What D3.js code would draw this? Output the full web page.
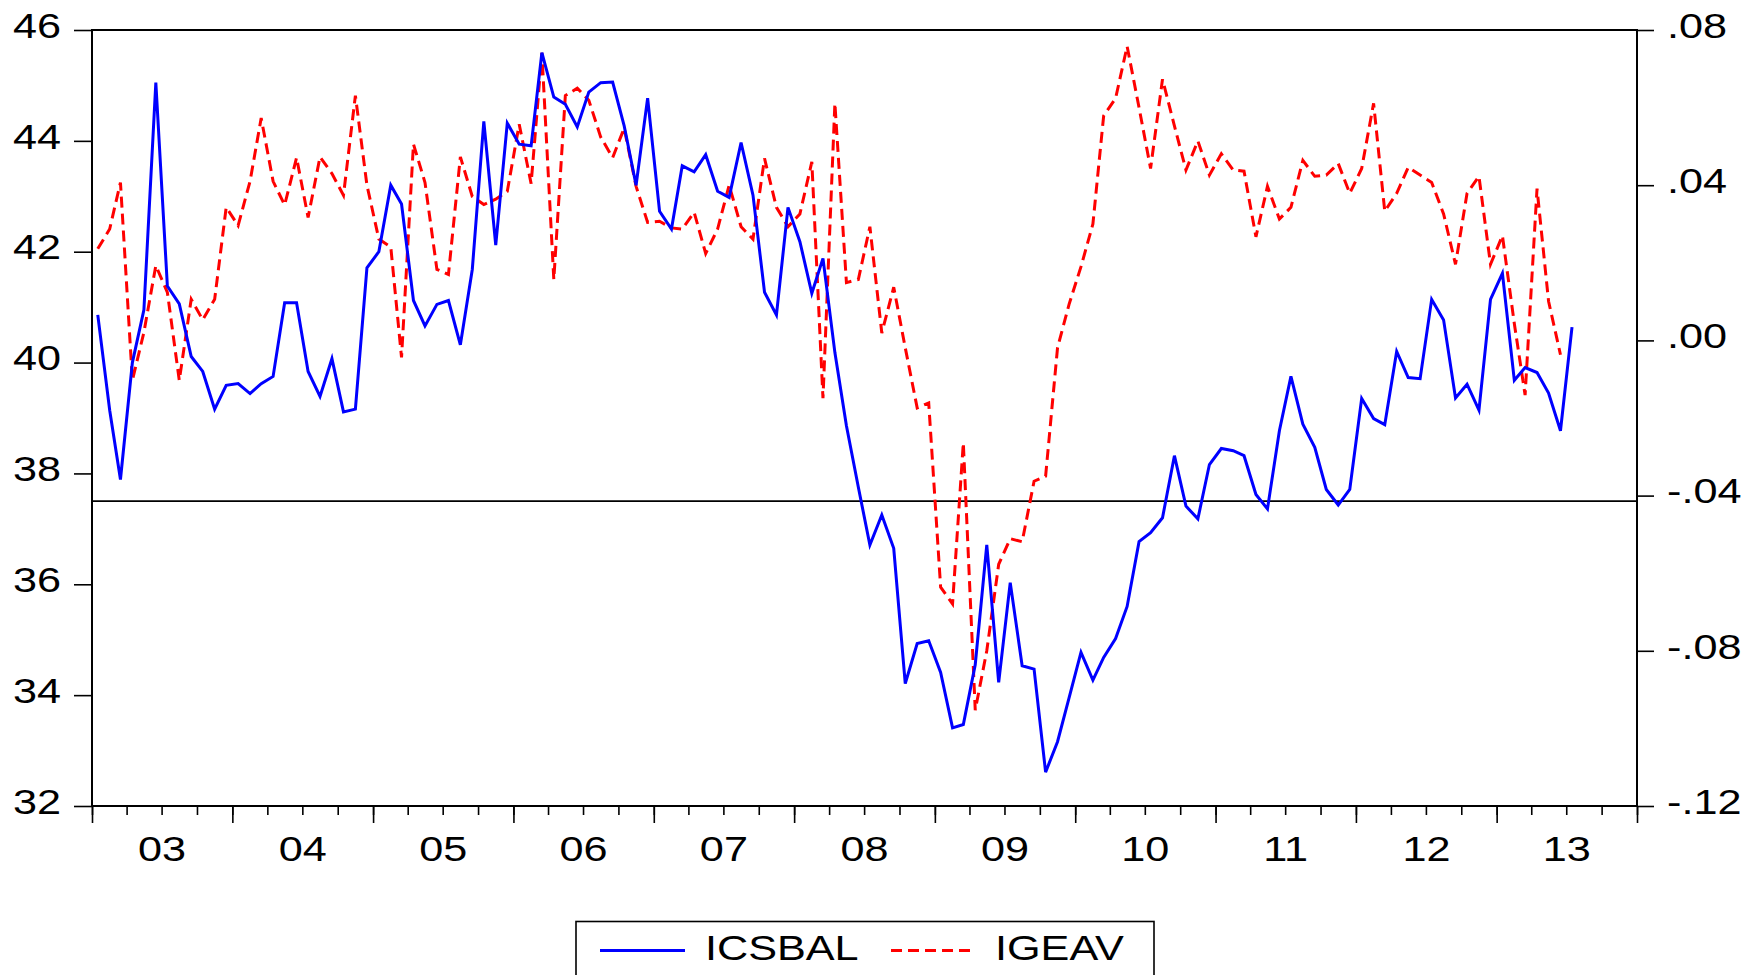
<!DOCTYPE html>
<html>
<head>
<meta charset="utf-8">
<script src="https://cdn.jsdelivr.net/npm/d3@7"></script>
<style>
    html, body { margin: 0; padding: 0; background: #fff; }
    svg { display: block; }
    text { font-family: "Liberation Sans", Arial, sans-serif; fill: #000; }
</style>
</head>
<body>
<div id="chart"></div>
<script>
// monthly series, starting Jan 2003
var icsbal = [
    40.86, 39.14, 37.89, 40.00, 40.95, 45.05, 41.38, 41.06, 40.11, 39.84, 39.16, 39.59,
    39.62, 39.44, 39.62, 39.75, 41.08, 41.08, 39.84, 39.39, 40.07, 39.11, 39.16, 41.71,
    42.00, 43.20, 42.86, 41.12, 40.66, 41.05, 41.12, 40.32, 41.68, 44.35, 42.12, 44.32,
    43.94, 43.91, 45.59, 44.79, 44.66, 44.25, 44.88, 45.05, 45.06, 44.27, 43.20, 44.77,
    42.73, 42.41, 43.55, 43.44, 43.75, 43.09, 42.98, 43.97, 43.02, 41.27, 40.86, 42.80,
    42.18, 41.25, 41.88, 40.18, 38.86, 37.75, 36.71, 37.25, 36.65, 34.21, 34.93, 34.98,
    34.41, 33.41, 33.47, 34.55, 36.71, 34.23, 36.03, 34.53, 34.47, 32.61, 33.16, 33.95,
    34.77, 34.27, 34.68, 35.02, 35.60, 36.77, 36.93, 37.20, 38.32, 37.41, 37.18, 38.16,
    38.45, 38.41, 38.32, 37.62, 37.36, 38.77, 39.75, 38.89, 38.47, 37.71, 37.43, 37.71,
    39.35, 38.99, 38.88, 40.20, 39.73, 39.71, 41.14, 40.77, 39.36, 39.61, 39.14, 41.14,
    41.61, 39.68, 39.91, 39.82, 39.45, 38.77, 40.64
];
var igeav = [
    0.0236, 0.0287, 0.0407, -0.0103, 0.0021, 0.0193, 0.0124, -0.0103, 0.0106, 0.0053, 0.0106, 0.0343,
    0.0296, 0.0410, 0.0573, 0.0410, 0.0349, 0.0471, 0.0317, 0.0473, 0.0430, 0.0374, 0.0631, 0.0400,
    0.0261, 0.0241, -0.0044, 0.0506, 0.0407, 0.0183, 0.0170, 0.0473, 0.0371, 0.0350, 0.0364, 0.0384,
    0.0557, 0.0404, 0.0741, 0.0157, 0.0631, 0.0650, 0.0619, 0.0524, 0.0471, 0.0547, 0.0397, 0.0304,
    0.0307, 0.0290, 0.0287, 0.0330, 0.0224, 0.0287, 0.0400, 0.0293, 0.0261, 0.0469, 0.0343, 0.0293,
    0.0326, 0.0460, -0.0149, 0.0611, 0.0149, 0.0157, 0.0293, 0.0019, 0.0137, -0.0019, -0.0174, -0.0161,
    -0.0636, -0.0679, -0.0264, -0.0953, -0.0800, -0.0577, -0.0511, -0.0519, -0.0363, -0.0350, -0.0019, 0.0093,
    0.0190, 0.0300, 0.0579, 0.0624, 0.0758, 0.0600, 0.0443, 0.0673, 0.0553, 0.0439, 0.0514, 0.0426,
    0.0481, 0.0439, 0.0436, 0.0267, 0.0397, 0.0313, 0.0343, 0.0464, 0.0423, 0.0426, 0.0456, 0.0379,
    0.0443, 0.0611, 0.0333, 0.0379, 0.0446, 0.0426, 0.0407, 0.0326, 0.0196, 0.0379, 0.0423, 0.0196,
    0.0270, 0.0043, -0.0141, 0.0391, 0.0101, -0.0037
];
var seriesNames = ["ICSBAL", "IGEAV"];
var leftTicks = [32, 34, 36, 38, 40, 42, 44, 46];
var rightTicks = [-0.12, -0.08, -0.04, 0.00, 0.04, 0.08];
var startYear = 2003, endYear = 2014;
// horizontal reference line, left axis units
var refLevel = 37.5;

function drawChart() {
    var width = 1748,
        height = 975,
        // plot frame
        left = 92, right = 1637, top = 30, bottom = 806,
        fontSize = 36,
        // text in the original is stretched sideways
        stretch = 1.2;

    var svg = d3.select("#chart").append("svg")
        .attr("width", width).attr("height", height);

    svg.append("rect").attr("width", width).attr("height", height).style("fill", "#fff");

    var x = d3.scaleTime()
        .domain([new Date(startYear, 0, 1), new Date(endYear, 0, 1)])
        .range([left, right]);
    var yL = d3.scaleLinear().domain([32, 46]).range([bottom, top]);
    var yR = d3.scaleLinear().domain([-0.12, 0.08]).range([bottom, top]);

    // mid-month position of each observation
    function monthDate(d, i) { return new Date(startYear, i, 16); }

    // left axis
    var gL = svg.append("g").attr("transform", "translate(" + left + ",0)")
        .call(d3.axisLeft(yL).tickValues(leftTicks).tickSize(18).tickPadding(13));
    gL.select(".domain").remove();
    gL.selectAll("text")
        .style("font-size", fontSize + "px")
        .attr("dy", "0.2em")
        .attr("x", 0)
        .attr("transform", "translate(-31,0) scale(" + stretch + ",1)");

    // right axis
    var fmtR = function (d) {
        var s = Math.abs(d).toFixed(2).replace(/^0/, "");
        return (d < 0 ? "-" : "") + s;
    };
    var gR = svg.append("g").attr("transform", "translate(" + right + ",0)")
        .call(d3.axisRight(yR).tickValues(rightTicks).tickSize(17).tickPadding(13).tickFormat(fmtR));
    gR.select(".domain").remove();
    gR.selectAll("text")
        .style("font-size", fontSize + "px")
        .attr("dy", "0.2em")
        .attr("x", 0)
        .attr("transform", "translate(30,0) scale(" + stretch + ",1)");

    // bottom axis: year ticks, quarter ticks, year labels
    var t0 = new Date(startYear, 0, 1), t1 = new Date(endYear, 0, 2);
    var gMinor = svg.append("g").attr("transform", "translate(0," + bottom + ")")
        .call(d3.axisBottom(x).tickValues(d3.timeMonth.every(3).range(t0, t1)).tickSize(9).tickFormat(""));
    gMinor.select(".domain").remove();
    var gMajor = svg.append("g").attr("transform", "translate(0," + bottom + ")")
        .call(d3.axisBottom(x).tickValues(d3.timeYear.range(t0, t1)).tickSize(17).tickFormat(""));
    gMajor.select(".domain").remove();
    var midYears = d3.range(startYear, endYear).map(function (yr) { return new Date(yr, 6, 1); });
    var gLab = svg.append("g").attr("transform", "translate(0," + bottom + ")")
        .call(d3.axisBottom(x).tickValues(midYears).tickSize(0).tickPadding(29).tickFormat(d3.timeFormat("%y")));
    gLab.select(".domain").remove();
    gLab.selectAll("text")
        .style("font-size", fontSize + "px")
        .attr("transform", "scale(" + stretch + ",1)");

    svg.selectAll(".tick line").style("stroke", "#000").style("stroke-width", 1.6);

    // reference line
    svg.append("line")
        .attr("x1", left).attr("x2", right)
        .attr("y1", yL(refLevel)).attr("y2", yL(refLevel))
        .style("stroke", "#000").style("stroke-width", 1.6);

    // series
    var lineL = d3.line().x(function (d, i) { return x(monthDate(d, i)); }).y(function (d) { return yL(d); });
    var lineR = d3.line().x(function (d, i) { return x(monthDate(d, i)); }).y(function (d) { return yR(d); });

    svg.append("path").datum(igeav)
        .attr("d", lineR)
        .style("fill", "none").style("stroke", "#ff0000")
        .style("stroke-width", 3).style("stroke-dasharray", "11,6");

    svg.append("path").datum(icsbal)
        .attr("d", lineL)
        .style("fill", "none").style("stroke", "#0000ff")
        .style("stroke-width", 3);

    // frame
    svg.append("rect")
        .attr("x", left).attr("y", top)
        .attr("width", right - left).attr("height", bottom - top)
        .style("fill", "none").style("stroke", "#000").style("stroke-width", 2);

    // legend
    var legend = svg.append("g");
    legend.append("rect")
        .attr("x", 576).attr("y", 921.5).attr("width", 578).attr("height", 90)
        .style("fill", "#fff").style("stroke", "#000").style("stroke-width", 1.6);
    var items = [
        { name: seriesNames[0], color: "#0000ff", dash: null, x0: 600, x1: 685, tx: 705 },
        { name: seriesNames[1], color: "#ff0000", dash: "11,6", x0: 891, x1: 971, tx: 995 }
    ];
    items.forEach(function (it) {
        legend.append("line")
            .attr("x1", it.x0).attr("x2", it.x1).attr("y1", 950.5).attr("y2", 950.5)
            .style("stroke", it.color).style("stroke-width", 3)
            .style("stroke-dasharray", it.dash);
        legend.append("text")
            .attr("transform", "translate(" + it.tx + ",960) scale(" + stretch + ",1)")
            .style("font-size", fontSize + "px")
            .text(it.name);
    });
}

drawChart();
</script>
</body>
</html>
